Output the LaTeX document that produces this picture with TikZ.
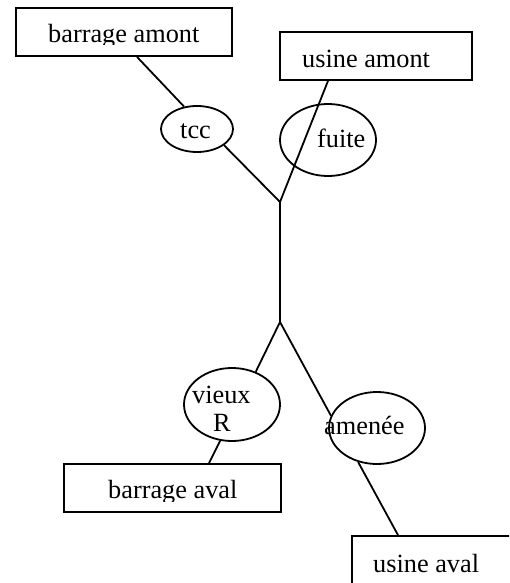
\documentclass[tikz,border=0pt]{standalone}
\usepackage{fontspec}
\setmainfont{Liberation Serif}
\usetikzlibrary{shapes.geometric,calc}
\tikzset{
  box/.style={draw, rectangle, line width=1.8pt, inner sep=0pt, fill=white},
  ell/.style={draw, ellipse, line width=1.8pt, inner sep=0pt},
  lbl/.style={anchor=base west, inner sep=0pt, font=\fontsize{26.3}{30}\selectfont},
  link/.style={line width=1.8pt}
}
\begin{document}
\begin{tikzpicture}[x=1pt,y=-1pt]
\useasboundingbox (0,0) rectangle (509,583);
\clip (0,0) rectangle (509,583);
\fill[white] (0,0) rectangle (509,583);
% boxes
\node[box, minimum width=216, minimum height=48] (bam) at (124,32) {};
\node[box, minimum width=192, minimum height=48] (uam) at (376,56) {};
\node[box, minimum width=217, minimum height=48] (bav) at (172.5,488) {};
\node[box, minimum width=168, minimum height=48] (uav) at (436,560) {};
% ellipses
\node[ell, minimum width=72, minimum height=46] (tcc) at (197,129) {};
\node[ell, minimum width=96, minimum height=72] (fuite) at (328,140) {};
\node[ell, minimum width=96, minimum height=73] (vieux) at (232,404.5) {};
\node[ell, minimum width=96, minimum height=72] (amen) at (377,428) {};
% junctions
\coordinate (j1) at (280,202);
\coordinate (j2) at (280,322);
% connectors
\draw[link] ([xshift=13]bam.south) -- (tcc.120);
\draw[link] (tcc.-31) -- (j1);
\draw[link] ([xshift=-48]uam.south) -- (j1);
\draw[link] (j1) -- (j2);
\draw[link] (j2) -- (vieux.54);
\draw[link] (j2) -- (amen.165);
\draw[link] (vieux.-108) -- ([xshift=36.5]bav.north);
\draw[link] (amen.-119) -- ([xshift=-38]uav.north);
% texts
\begin{scope}
\clip (0,0) rectangle (509,45);
\node[lbl] (tbam) at (48,43) {barrage amont};
\end{scope}
\node[lbl] (tuam) at (302,68) {usine amont};
\node[lbl] (ttcc) at (180,138) {tcc};
\node[lbl] (tfuite) at (317,147) {fuite};
\node[lbl] (tvieux) at (192,403) {vieux};
\node[lbl] (tr) at (213,431) {R};
\node[lbl] (tamen) at (324,434) {amenée};
\begin{scope}
\clip (0,470) rectangle (509,501);
\node[lbl] (tbav) at (108,498) {barrage aval};
\end{scope}
\node[lbl] (tuav) at (373,572) {usine aval};
\end{tikzpicture}
\end{document}
